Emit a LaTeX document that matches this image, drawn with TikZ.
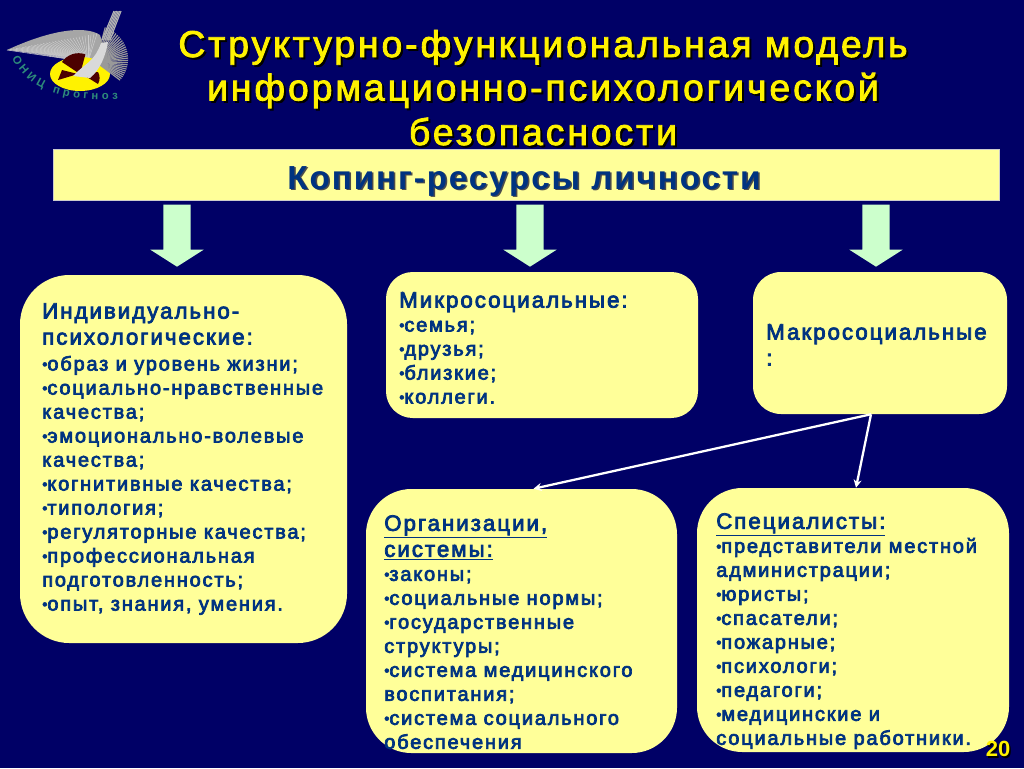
\documentclass[tikz,border=0pt]{standalone}
\usepackage{fontspec}
\setmainfont{Liberation Sans}
\usetikzlibrary{shapes.arrows, positioning, decorations.text, arrows.meta}
\definecolor{slidebg}{HTML}{000066}
\definecolor{softyellow}{HTML}{FFFF99}
\definecolor{softgreen}{HTML}{CCFFCC}
\definecolor{inkblue}{HTML}{003380}
\definecolor{logoteal}{HTML}{2E8B7A}
\newfontfamily\titlefont[LetterSpace=7.8,FakeBold=2.2]{Liberation Sans}
\newfontfamily\listfont[LetterSpace=9,FakeBold=3.5]{Liberation Sans}
\newfontfamily\bannerfont[LetterSpace=5.5]{Liberation Sans Bold}
\newcommand{\listhead}{\fontsize{16.7}{18}\selectfont}
\newcommand{\bl}{\raisebox{1pt}{\fontsize{11}{11}\selectfont•}}
\tikzstyle{arrow} = [line width=1.7pt,white,-{Stealth[length=6pt,width=6pt]}]

\begin{document}
\begin{tikzpicture}[
    x=0.75pt, y=-0.75pt,
    softbox/.style={rectangle, fill=softyellow, inner sep=0pt},
    listtext/.style={anchor=north west, inner sep=0pt, text=inkblue, align=left, font=\listfont\fontsize{15}{18}\selectfont},
    titleline/.style={anchor=base, inner sep=0pt, font=\titlefont\fontsize{28}{32}\selectfont},
    bannertext/.style={anchor=base, inner sep=0pt, font=\bannerfont\fontsize{25}{28}\selectfont},
    pagetext/.style={inner sep=0pt, font=\bfseries\fontsize{16.5}{18}\selectfont},
    downarrow/.style={single arrow, fill=softgreen, inner sep=10pt, minimum width=39.75pt, minimum height=46.5pt,
      single arrow head extend=9.75pt, single arrow tip angle=115, shape border rotate=270, anchor=tip},
  ]
    \fill[slidebg] (0,0) rectangle (1024,768);

    % Logo
    \fill[gray!70] (7,50) .. controls (50,30) and (85,25) .. (100,35) -- (108,60) -- (78,58) -- cycle;
    \foreach \a in {0,...,30} {
      \draw[white!80!black, line width=0.4pt] (88,62) -- ({7+\a*3},{50-\a*0.55});
    }
    \fill[yellow] (80,74) ellipse (30 and 17);
    \fill[black!70!red] (80,74) -- (62,62) arc (214:290:20) -- cycle;
    \fill[black!70!red] (82,74) -- (98,84) arc (30:-30:12) -- cycle;
    \fill[black!70!red] (78,74) -- (58,80) -- (62,70) -- cycle;
    \foreach \a in {-75,-71,...,40} {
      \draw[gray!80, line width=0.9pt] (96,62) -- ++(\a:{32-\a*0.05});
    }
    \fill[white!85!black] (101,43) .. controls (95,60) and (88,62) .. (77,72) -- (73,76) -- (90,78) .. controls (100,70) and (106,55) .. (108,42) -- cycle;
    \foreach \a in {0,...,5} {
      \draw[gray!60, line width=0.9pt] ({102+\a*1.6},40) -- ({114+\a*1.4},11);
    }
    \path[decorate, decoration={text along path, text={|\fontsize{8.5}{8.5}\selectfont\bfseries\color{logoteal}|ОНИЦ прогноз}, text align=fit to path}]
      (12,58) .. controls (25,85) and (55,102) .. (118,99);

    % Title
    \foreach \txt/\ypos/\name in {Структурно-функциональная модель/57/tline,информационно-психологической/100.5/mline,безопасности/145/bline} {
      \node[titleline, text=black] (\name shade) at (545,\ypos+2) {\txt};
      \node[titleline, text=yellow] (\name) at (543,\ypos) {\txt};
    }

    % Banner
    \node[softbox, draw=gray!40, line width=0.3pt, minimum width=709.5pt, minimum height=38.25pt] (banner) at (526,174.5) {};
    \node[bannertext, text=black!70] (copingshade) at (525.5,190.5) {Копинг-ресурсы личности};
    \node[bannertext, text=inkblue] (coping) at (524,189) {Копинг-ресурсы личности};

    % Boxes
    \node[softbox, rounded corners=37pt, minimum width=245.25pt, minimum height=276pt] (individ) at (183.5,459) {};
    \node[softbox, rounded corners=20pt, minimum width=234pt, minimum height=109.5pt] (micro) at (542,345) {};
    \node[softbox, rounded corners=21pt, minimum width=190.5pt, minimum height=106.5pt] (macro) at (880,343) {};
    \node[softbox, rounded corners=34pt, minimum width=233.25pt, minimum height=198pt] (org) at (521.5,621) {};
    \node[softbox, rounded corners=34pt, minimum width=234pt, minimum height=198pt] (spec) at (853,620) {};

    % Arrows
    \node[downarrow] (down1) at (177,267) {};
    \node[downarrow] (down2) at (530,267) {};
    \node[downarrow] (down3) at (876,267) {};

    \draw[arrow] ([xshift=-6.75pt]macro.south) -- ([xshift=9pt]org.north);
    \draw[arrow] ([xshift=-6.75pt]macro.south) -- ([xshift=2.25pt]spec.north);

    % Box texts
    \node[listtext] (individtext) at (42,303) {{\listhead Индивидуально-}\\[1.5pt]{\listhead психологические:}\\[1.5pt]\bl образ и уровень жизни;\\\bl социально-нравственные\\качества;\\\bl эмоционально-волевые\\качества;\\\bl когнитивные качества;\\\bl типология;\\\bl регуляторные качества;\\\bl профессиональная\\подготовленность;\\\bl опыт, знания, умения.};
    \node[listtext] (microtext) at (399,292) {{\listhead Микросоциальные:}\\\bl семья;\\\bl друзья;\\\bl близкие;\\\bl коллеги.};
    \node[listtext] (macrotext) at (766,324) {{\listhead Макросоциальные}\\[1.5pt]{\listhead :}};
    \node[listtext] (orgtext) at (384,515) {{\listhead\underline{Организации,}}\\[1.5pt]{\listhead\underline{системы:}}\\\bl законы;\\\bl социальные нормы;\\\bl государственные\\структуры;\\\bl система медицинского\\воспитания;\\\bl система социального\\обеспечения};
    \node[listtext] (spectext) at (716,513) {{\listhead\underline{Специалисты:}}\\\bl представители местной\\администрации;\\\bl юристы;\\\bl спасатели;\\\bl пожарные;\\\bl психологи;\\\bl педагоги;\\\bl медицинские и\\социальные работники.};

    % Page number
    \node[pagetext, text=black] (pagenoshade) at (999.5,750.5) {20};
    \node[pagetext, text=yellow] (pageno) at (998,749) {20};
  \end{tikzpicture}
\end{document}
